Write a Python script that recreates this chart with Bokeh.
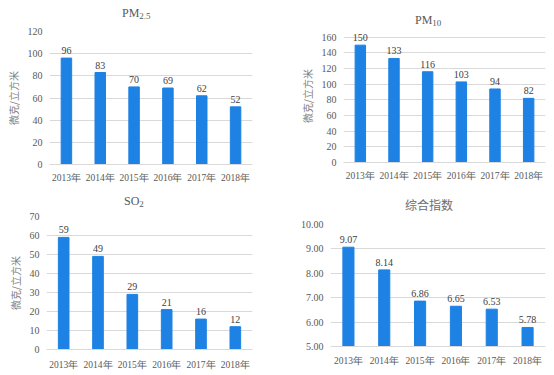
from bokeh.plotting import figure
from bokeh.layouts import column, row
from bokeh.models import FactorRange, Range1d, FixedTicker, NumeralTickFormatter, Div
from bokeh.embed import file_html
from bokeh.resources import INLINE
from bokeh.core.properties import value

years = ["2013年", "2014年", "2015年", "2016年", "2017年", "2018年"]
pm25 = [96, 83, 70, 69, 62, 52]
pm10 = [150, 133, 116, 103, 94, 82]
so2 = [59, 49, 29, 21, 16, 12]
composite = [9.07, 8.14, 6.86, 6.65, 6.53, 5.78]
title_main = ["PM", "PM", "SO", "综合指数"]
title_sub = ["2.5", "10", "2", ""]
unit_label = "微克/立方米"

SERIF = "Liberation Serif"
CJK = "Noto Sans CJK SC"
BLUE = "#1D82E3"
GRID = "#D9D9D9"
TICK = "#595959"


def title_div(main, sub, width, height, pad_top, pad_left, cjk=False):
    fam = "'Noto Sans CJK SC', sans-serif" if cjk else "'Liberation Serif', serif"
    lh = 14 if cjk else 12
    color = "#6B6B6B" if cjk else TICK
    html = (f'<div style="padding:{pad_top}px 0 0 {pad_left}px; line-height:{lh}px; '
            f'font-family:{fam}; font-size:12px; font-weight:normal; color:{color}; '
            f'white-space:nowrap;">{main}')
    if sub:
        html += f'<span style="font-size:9px; position:relative; top:2px;">{sub}</span>'
    html += '</div>'
    return Div(text=html, width=width, height=height, margin=0)


def make(vals, labels, w, h, bl, br, bt, bb, ymin, ymax, ticks, ylabel, fmt=None, xstand=8):
    p = figure(x_range=FactorRange(factors=years, range_padding=0),
               y_range=Range1d(ymin, ymax), width=w, height=h, title=None,
               output_backend="svg", toolbar_location=None,
               min_border_left=bl, min_border_right=br,
               min_border_top=bt, min_border_bottom=bb, margin=0)
    p.vbar(x=years, top=vals, bottom=ymin, width=0.31, color=BLUE)
    p.text(x=years, y=vals, text=labels, text_align="center", text_baseline="bottom",
           y_offset=-4, text_font=value(SERIF), text_font_size="10px", text_color="#404040")
    p.outline_line_color = None
    p.xgrid.grid_line_color = None
    p.ygrid.grid_line_color = GRID
    yax = p.yaxis[0]
    yax.ticker = FixedTicker(ticks=ticks)
    if fmt:
        yax.formatter = NumeralTickFormatter(format=fmt)
    yax.axis_line_color = None
    yax.major_tick_line_color = None
    yax.minor_tick_line_color = None
    yax.major_tick_out = 0
    yax.major_tick_in = 0
    yax.minor_tick_out = 0
    yax.major_label_text_font = SERIF
    yax.major_label_text_font_size = "10px"
    yax.major_label_text_color = TICK
    yax.major_label_standoff = 7
    if ylabel:
        yax.axis_label = ylabel
        yax.axis_label_text_font = CJK
        yax.axis_label_text_font_size = "10px"
        yax.axis_label_text_font_style = "normal"
        yax.axis_label_text_color = "#7F7F7F"
        yax.axis_label_standoff = 4
    xax = p.xaxis[0]
    xax.axis_line_color = GRID
    xax.major_tick_line_color = None
    xax.minor_tick_line_color = None
    xax.major_tick_out = 0
    xax.major_tick_in = 0
    xax.major_label_text_font = SERIF
    xax.major_label_text_font_size = "9.5px"
    xax.major_label_text_color = TICK
    xax.major_label_standoff = xstand
    return p


d1 = title_div(title_main[0], title_sub[0], 277, 19, 7, 122)
p1 = make(pm25, [str(v) for v in pm25], 277, 169, 49, 25, 12, 24,
          0, 120, [0, 20, 40, 60, 80, 100, 120], unit_label)

d2 = title_div(title_main[1], title_sub[1], 277, 27, 14, 138)
p2 = make(pm10, [str(v) for v in pm10], 277, 161, 66, 9, 2, 26,
          0, 170, [0, 20, 40, 60, 80, 100, 120, 140, 160], unit_label)

d3 = title_div(title_main[2], title_sub[2], 277, 19, 7, 124)
p3 = make(so2, [str(v) for v in so2], 277, 167, 46, 25, 9, 25,
          0, 70, [0, 10, 20, 30, 40, 50, 60, 70], unit_label, xstand=10)

d4 = title_div(title_main[3], title_sub[3], 277, 24, 10, 128, cjk=True)
p4 = make(composite, [f"{v:.2f}" for v in composite], 277, 162, 53, 9, 12, 28,
          5, 10, [5, 6, 7, 8, 9, 10], None, fmt="0.00", xstand=9)

layout = column(row(column(d1, p1), column(d2, p2)),
                row(column(d3, p3), column(d4, p4)))
open("out.html", "w").write(file_html(layout, INLINE))
